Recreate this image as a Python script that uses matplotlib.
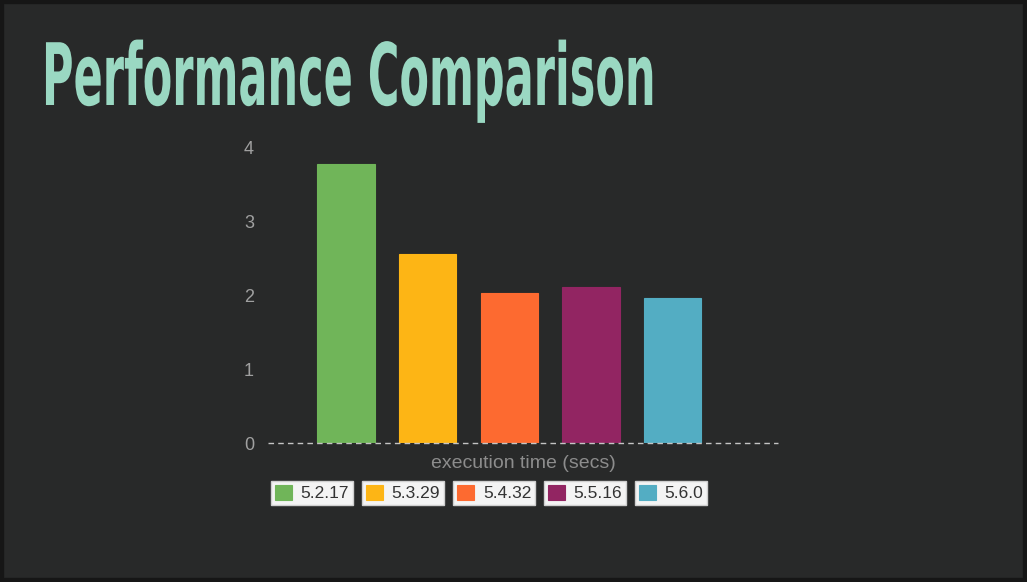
import numpy as np
import matplotlib
matplotlib.use("Agg")
import matplotlib.pyplot as plt
import matplotlib.patheffects as pe
from matplotlib.transforms import Affine2D

versions = ["5.2.17", "5.3.29", "5.4.32", "5.5.16", "5.6.0"]
exec_time = [3.78, 2.56, 2.03, 2.12, 1.97]
bar_colors = ["#70b559", "#fdb515", "#fd6a30", "#922562", "#53adc3"]
yticks = [0, 1, 2, 3, 4]

plt.rcParams['font.family'] = ['Liberation Sans', 'DejaVu Sans']


class Stretch(pe.AbstractPathEffect):
    # stretch glyphs vertically around the baseline (condensed look)
    def __init__(self, sy):
        super().__init__()
        self.sy = sy

    def draw_path(self, renderer, gc, tpath, affine, rgbFace=None):
        renderer.draw_path(gc, tpath, Affine2D().scale(1, self.sy) + affine, rgbFace)


bg = "#282929"
fig = plt.figure(figsize=(10.27, 5.82), dpi=100, facecolor=bg)

# darker frame around the board
border = plt.Rectangle((0, 0), 1, 1, transform=fig.transFigure, fill=False,
                       edgecolor="#161616", linewidth=6)
fig.add_artist(border)

fig.text(42 / 1027, 1 - 105 / 582, "Performance Comparison",
         fontfamily=["Liberation Sans Narrow", "DejaVu Sans"], fontweight="bold",
         fontsize=31, color="#9ad8c2", ha="left", va="baseline",
         path_effects=[Stretch(2.0)])

ax = fig.add_axes([268 / 1027, 1 - 443 / 582, 510 / 1027, 295 / 582])
ax.set_facecolor("none")

x = np.arange(len(versions))
bars = ax.bar(x, exec_time, width=0.70, color=bar_colors, zorder=3,
              edgecolor=bar_colors, linewidth=0.8)

ax.set_xlim(-0.955, 5.29)
ax.set_ylim(0, 4)
ax.axhline(0, color="#c4c4c4", linestyle=(0, (4, 3)), linewidth=1, zorder=4, clip_on=False)
for s in ax.spines.values():
    s.set_visible(False)
ax.set_xticks([])
ax.set_yticks(yticks)
ax.tick_params(axis="y", length=0, pad=10, labelsize=13, labelcolor="#a0a0a0")
ax.set_xlabel("execution time (secs)", fontsize=14, color="#8c8c8c", labelpad=9)

# one boxed legend entry per version
box_centers = [312, 403, 494, 585, 671]
for i, b in enumerate(bars):
    leg = fig.legend([b], [versions[i]], loc="center",
                     bbox_to_anchor=(box_centers[i] / 1027, 1 - 493 / 582),
                     frameon=True, fancybox=False, framealpha=1,
                     handlelength=1.0, handleheight=1.0,
                     handletextpad=0.5, borderpad=0.2, borderaxespad=0,
                     fontsize=12.5, labelcolor="#333333")
    leg.get_frame().set_facecolor("#f4f4f4")
    leg.get_frame().set_edgecolor("#cfcfcf")
    leg.get_frame().set_linewidth(1)

fig.savefig("out.png", dpi=100, facecolor=bg)
